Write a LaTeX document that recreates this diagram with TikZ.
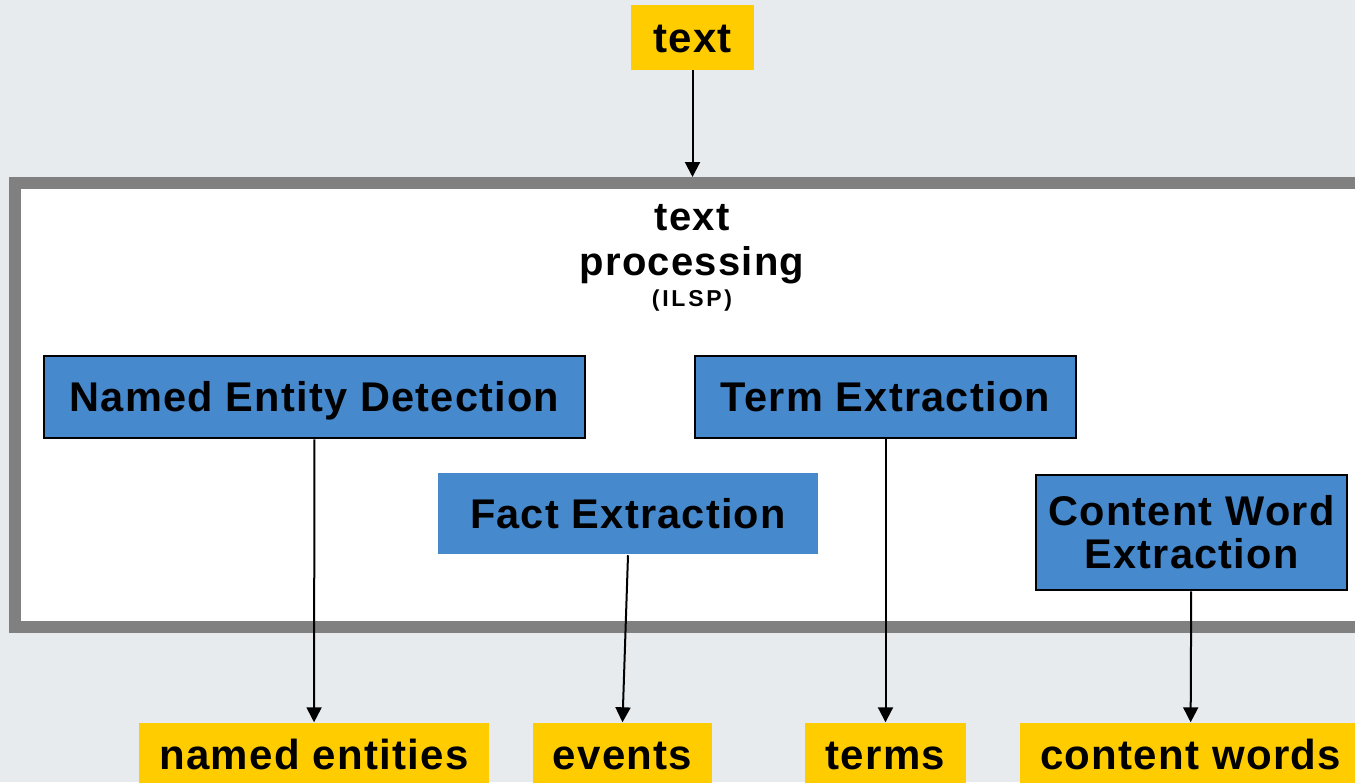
\documentclass[tikz,border=0pt]{standalone}
\usepackage{fontspec}
\setmainfont{Liberation Sans}[LetterSpace=3]
\usetikzlibrary{arrows.meta}
\definecolor{bgGray}{HTML}{E8EBEE}
\definecolor{ioYellow}{HTML}{FFCC00}
\definecolor{procBlue}{HTML}{4689CC}
\definecolor{frameGray}{HTML}{808080}
\begin{document}
\begin{tikzpicture}[x=1pt,y=-1pt,
    iobox/.style={fill=ioYellow,inner sep=0pt,text height=29pt,text depth=0pt,
        font=\bfseries\fontsize{42}{46}\selectfont},
    procbox/.style={fill=procBlue,draw=black,line width=2.5pt,inner sep=0pt,align=center,
        font=\bfseries\fontsize{41.5}{43}\selectfont},
    flow/.style={-{Triangle[width=15pt,length=15pt]},line width=2pt}]
                    \fill[bgGray] (0,0) rectangle (1355,782);
                    \useasboundingbox (0,0) rectangle (1355,782);
                    \clip (0,0) rectangle (1355,782);
                    \draw[frameGray,line width=12pt,fill=white] (15,183) rectangle (1380,627);
                    \node[font=\bfseries\fontsize{40}{44}\selectfont,anchor=base] (procA) at (692,230) {text};
                    \node[font=\bfseries\fontsize{40}{44}\selectfont,anchor=base] (procB) at (692,275) {processing};
                    \node[font=\bfseries\fontsize{23}{26}\selectfont\addfontfeature{LetterSpace=12},anchor=base] (procC) at (692,306) {(ILSP)};
                    \coordinate (procTop) at (692.5,177);
                    \node[iobox,minimum width=123pt,minimum height=65pt] (textIn) at (692.5,37.5) {text};
                    \node[procbox,minimum width=541pt,minimum height=82pt,text height=29pt,text depth=0pt] (ned) at (314.5,397) {Named Entity Detection};
                    \node[procbox,minimum width=381pt,minimum height=82pt,text height=29pt,text depth=0pt] (termEx) at (885.5,397) {Term Extraction};
                    \node[procbox,draw=none,minimum width=380pt,minimum height=81pt,text height=29pt,text depth=0pt] (factEx) at (628,513.5) {Fact Extraction};
                    \node[procbox,minimum width=311pt,minimum height=115pt] (cwEx) at (1191.5,532.5) {Content Word\\Extraction};
                    \node[iobox,minimum width=350pt,minimum height=64pt] (namedOut) at (314,754.5) {named entities};
                    \node[iobox,minimum width=179pt,minimum height=64pt] (eventsOut) at (622.5,754.5) {events};
                    \node[iobox,minimum width=161pt,minimum height=64pt] (termsOut) at (885.5,754.5) {terms};
                    \node[iobox,minimum width=341pt,minimum height=64pt] (cwOut) at (1190.5,754.5) {content words};
                    \draw[flow] (textIn) -- (procTop);
                    \draw[flow] (ned) -- (namedOut);
                    \draw[flow] (factEx.south) -- (eventsOut.north);
                    \draw[flow] (termEx) -- (termsOut);
                    \draw[flow] (cwEx) -- (cwOut);
                \end{tikzpicture}
\end{document}
